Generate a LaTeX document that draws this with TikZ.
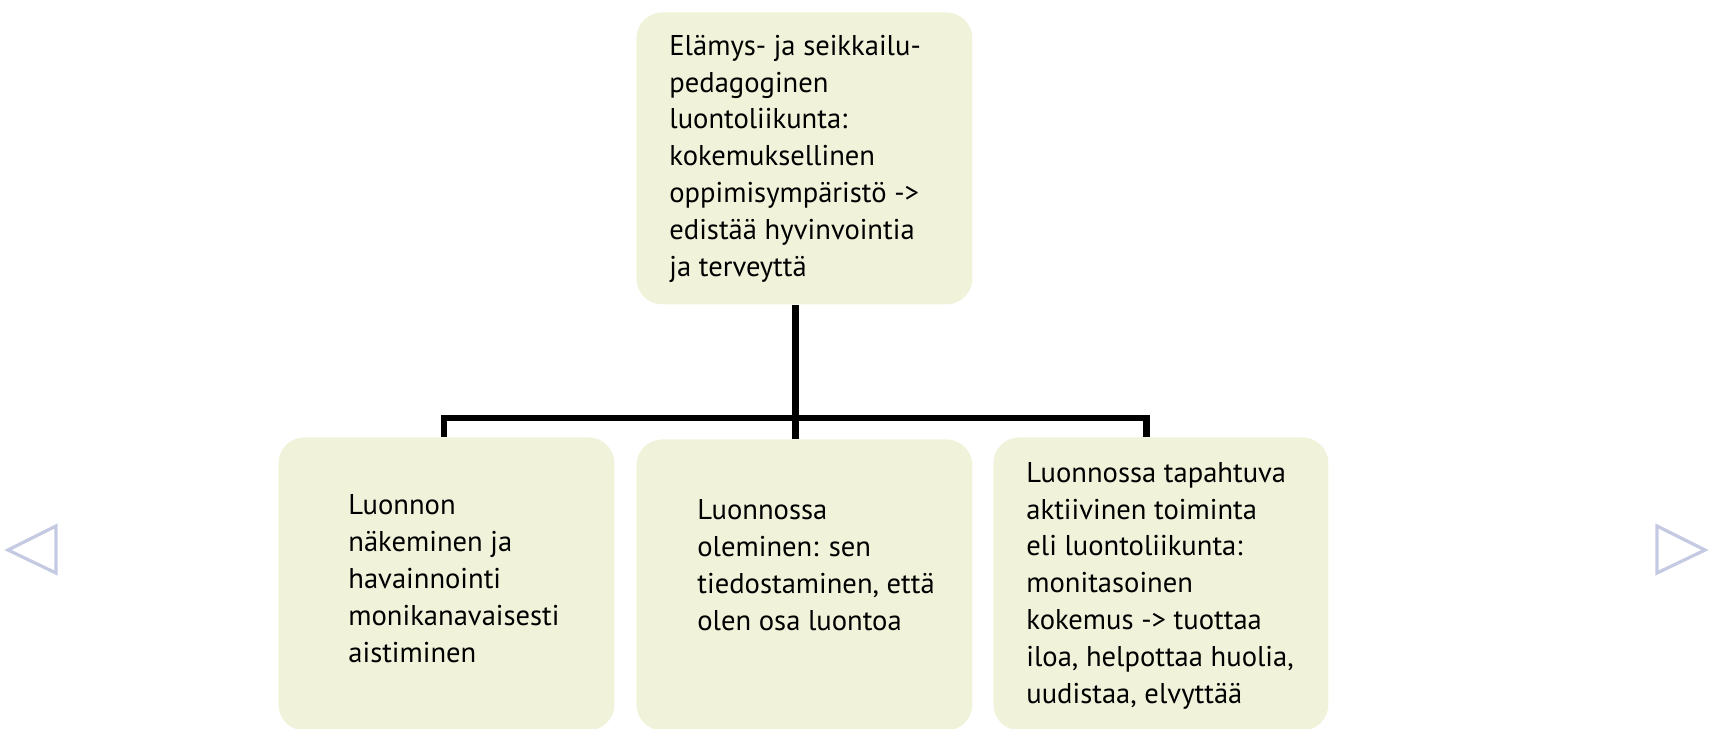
\documentclass[tikz,border=0pt]{standalone}
\usepackage{fontspec}
\setmainfont{PT Sans}
\definecolor{boxfill}{RGB}{240,243,218}
\definecolor{navgrey}{RGB}{197,202,227}
\begin{document}
\begin{tikzpicture}[x=0.5pt,y=-0.5pt,
		box/.style={fill=boxfill,rounded corners=13pt,anchor=north west,inner sep=0pt,minimum width=168pt},
		txt/.style={anchor=base west,align=left,inner sep=0pt,font=\fontsize{14.3}{18.4}\selectfont},
		conn/.style={line width=3.2pt}]
		\useasboundingbox (0,0) rectangle (1717,728);
		% ruudut
		\node[box,minimum height=146pt] (top) at (636,12) {};
		\node[box,minimum height=146.5pt] (vasen) at (278,437) {};
		\node[box,minimum height=145.5pt] (keski) at (636,439) {};
		\node[box,minimum height=146.5pt,minimum width=167.5pt] (oikea) at (993,437) {};
		% tekstit (ankkuri viimeisen rivin pohjalla)
		\node[txt] (ttop) at (669,276) {Elämys- ja seikkailu-\\pedagoginen\\luontoliikunta:\\kokemuksellinen\\oppimisympäristö ->\\edistää hyvinvointia\\ja terveyttä};
		\node[txt] (tvasen) at (348,662) {Luonnon\\näkeminen ja\\havainnointi\\monikanavaisesti\\aistiminen};
		\node[txt] (tkeski) at (697,630) {Luonnossa\\oleminen: sen\\tiedostaminen, että\\olen osa luontoa};
		\node[txt] (toikea) at (1026,703) {Luonnossa tapahtuva\\aktiivinen toiminta\\eli luontoliikunta:\\monitasoinen\\kokemus -> tuottaa\\iloa, helpottaa huolia,\\uudistaa, elvyttää};
		% viivat
		\coordinate (hub) at (795.5,418);
		\coordinate (jv) at (444,418);
		\coordinate (jo) at (1146.5,418);
		\draw[conn] (top.south -| hub) -- (hub) -- (hub |- keski.north);
		\draw[conn] (jv |- vasen.north) -- (jv) -- (jo) -- (jo |- oikea.north);
		% nuolet sivuilla
		\draw[navgrey,line width=1.6pt] (56,526) -- (56,573) -- (8,550) -- cycle;
		\draw[navgrey,line width=1.6pt] (1657,526) -- (1657,573) -- (1705,550) -- cycle;
	\end{tikzpicture}
\end{document}
